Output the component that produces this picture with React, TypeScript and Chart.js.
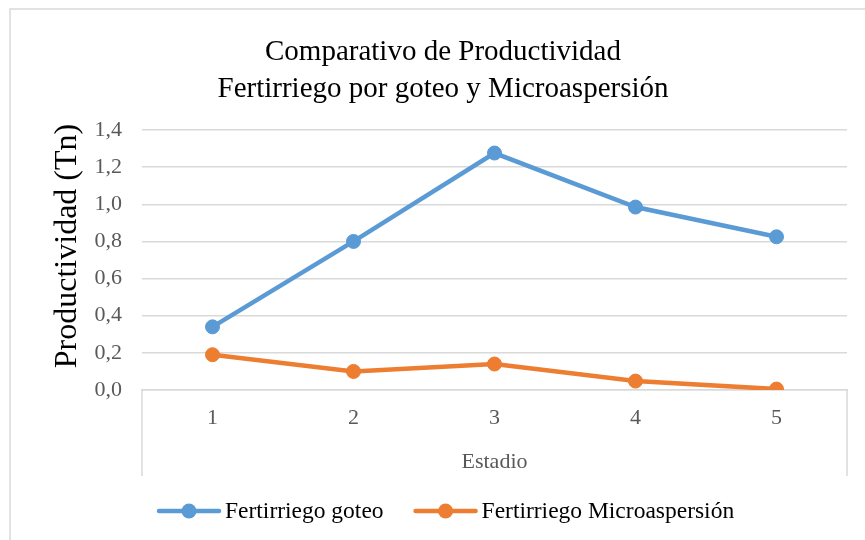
import React, { useEffect, useRef } from "react";
import { Chart, registerables } from "chart.js";

Chart.register(...registerables);

const categories = ["1", "2", "3", "4", "5"];
const goteo = [0.34, 0.80, 1.276, 0.985, 0.825];
const microaspersion = [0.19, 0.10, 0.14, 0.048, 0.005];
const seriesNames = ["Fertirriego goteo", "Fertirriego Microaspersión"];
const titleLines = ["Comparativo de Productividad", "Fertirriego por goteo y Microaspersión"];
const yTitle = "Productividad (Tn)";
const xTitle = "Estadio";
const yMin = 0;
const yMax = 1.4;
const yStep = 0.2;

const FONT = "'Liberation Serif', 'Times New Roman', serif";
const BLUE = "#5B9BD5";
const ORANGE = "#ED7D31";
const GRID = "#d9d9d9";
const TICK = "#595959";

const framePlugin = {
  id: "frame",
  beforeDraw(chart: any) {
    const { ctx } = chart;
    ctx.save();
    ctx.fillStyle = "#ffffff";
    ctx.fillRect(0, 0, chart.width, chart.height);
    ctx.strokeStyle = GRID;
    ctx.lineWidth = 1.5;
    ctx.strokeRect(10, 9, chart.width + 20, chart.height + 20);
    ctx.restore();
  },
  afterDraw(chart: any) {
    const { ctx, chartArea } = chart;
    ctx.save();
    ctx.strokeStyle = GRID;
    ctx.lineWidth = 1.5;
    ctx.beginPath();
    ctx.moveTo(chartArea.left, chartArea.bottom);
    ctx.lineTo(chartArea.left, chartArea.bottom + 86);
    ctx.moveTo(chartArea.right, chartArea.bottom);
    ctx.lineTo(chartArea.right, chartArea.bottom + 86);
    ctx.stroke();
    // y axis title
    ctx.translate(68, 246);
    ctx.rotate(-Math.PI / 2);
    ctx.font = `32px ${FONT}`;
    ctx.fillStyle = "#000000";
    ctx.textAlign = "center";
    ctx.textBaseline = "middle";
    ctx.fillText(yTitle, 0, 0);
    ctx.restore();
  },
};

const legendPlugin = {
  id: "customLegend",
  afterDraw(chart: any) {
    const { ctx } = chart;
    ctx.save();
    ctx.font = `23.5px ${FONT}`;
    ctx.textBaseline = "middle";
    ctx.textAlign = "left";
    let x = 157;
    const y = 511;
    chart.data.datasets.forEach((ds: any) => {
      ctx.strokeStyle = ds.borderColor;
      ctx.lineWidth = 4.5;
      ctx.lineCap = "round";
      ctx.beginPath();
      ctx.moveTo(x + 2, y);
      ctx.lineTo(x + 62, y);
      ctx.stroke();
      ctx.fillStyle = ds.borderColor;
      ctx.beginPath();
      ctx.arc(x + 32, y, 7.5, 0, Math.PI * 2);
      ctx.fill();
      ctx.fillStyle = "#000000";
      ctx.fillText(ds.label, x + 68, y + 1);
      x += 68 + ctx.measureText(ds.label).width + 30;
    });
    ctx.restore();
  },
};

export default function App() {
  const ref = useRef<HTMLCanvasElement | null>(null);

  useEffect(() => {
    if (!ref.current) return;
    const chart = new Chart(ref.current, {
      type: "line",
      data: {
        labels: categories,
        datasets: [
          {
            label: seriesNames[0],
            data: goteo,
            borderColor: BLUE,
            backgroundColor: BLUE,
            pointBackgroundColor: BLUE,
            pointBorderColor: BLUE,
            borderWidth: 4.5,
            pointRadius: 7,
            pointBorderWidth: 1,
            tension: 0,
          },
          {
            label: seriesNames[1],
            data: microaspersion,
            borderColor: ORANGE,
            backgroundColor: ORANGE,
            pointBackgroundColor: ORANGE,
            pointBorderColor: ORANGE,
            borderWidth: 4.5,
            pointRadius: 7,
            pointBorderWidth: 1,
            tension: 0,
          },
        ],
      },
      options: {
        responsive: false,
        animation: false,
        layout: { padding: { left: 39, right: 18, top: 0, bottom: 0 } },
        plugins: {
          legend: { display: false },
          tooltip: { enabled: false },
          title: {
            display: true,
            text: titleLines,
            color: "#000000",
            font: { family: FONT, size: 29, weight: "normal", lineHeight: "37px" as any },
            padding: { top: 34, bottom: 22 },
          },
        },
        scales: {
          x: {
            type: "category",
            offset: true,
            grid: { display: false, drawTicks: false },
            border: { display: true, color: GRID, width: 1.5 },
            ticks: { color: TICK, padding: 15, font: { family: FONT, size: 22 } },
            title: {
              display: true,
              text: xTitle,
              color: TICK,
              font: { family: FONT, size: 22, lineHeight: 1.2 },
              padding: { top: 0, bottom: 64.8 },
            },
            afterFit(scale: any) {
              scale.height = 150;
            },
          },
          y: {
            min: yMin,
            max: yMax,
            grid: { color: GRID, lineWidth: 1.5, drawTicks: false },
            border: { display: false },
            ticks: {
              stepSize: yStep,
              color: TICK,
              padding: 20,
              font: { family: FONT, size: 22 },
              callback: (v: any) => Number(v).toFixed(1).replace(".", ","),
            },
            title: { display: false },
            afterFit(scale: any) {
              scale.width = 103;
            },
          },
        },
      },
      plugins: [framePlugin, legendPlugin],
    });
    return () => chart.destroy();
  }, []);

  return (
    <div style={{ position: "fixed", left: 0, top: 0, width: 865, height: 540, background: "#fff" }}>
      <canvas ref={ref} width={865} height={540} style={{ display: "block" }} />
    </div>
  );
}
